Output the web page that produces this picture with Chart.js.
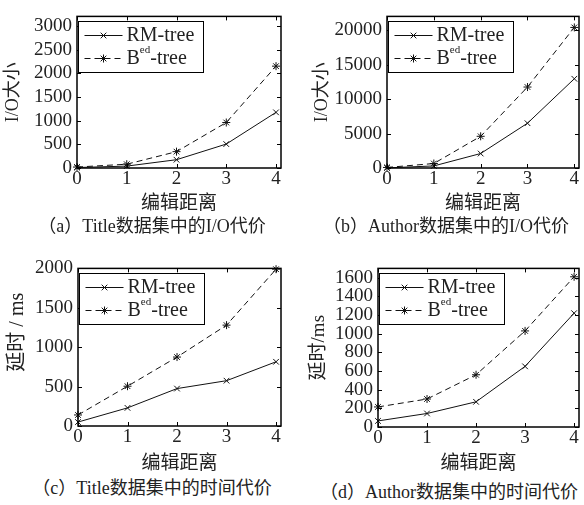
<!DOCTYPE html>
<html>
<head>
<meta charset="utf-8">
<script src="https://cdn.jsdelivr.net/npm/chart.js@4.4.1/dist/chart.umd.min.js"></script>
<style>
body { margin: 0; background: #fff; width: 584px; height: 505px; position: relative; overflow: hidden; }
canvas { position: absolute; }
.chuthich { position: absolute; width: 292px; text-align: center; font: 18px "Liberation Serif", "Noto Sans CJK SC"; color: #222; line-height: 24px; white-space: nowrap; }
</style>
</head>
<body>
<canvas id="bdA" width="292" height="215" style="left:0;top:0"></canvas>
<canvas id="bdB" width="292" height="215" style="left:292px;top:0"></canvas>
<canvas id="bdC" width="292" height="223" style="left:0;top:252px"></canvas>
<canvas id="bdD" width="292" height="223" style="left:292px;top:252px"></canvas>
<div class="chuthich" style="left:6px;top:214px">（a）Title数据集中的I/O代价</div>
<div class="chuthich" style="left:300px;top:214px">（b）Author数据集中的I/O代价</div>
<div class="chuthich" style="left:6px;top:476px">（c）Title数据集中的时间代价</div>
<div class="chuthich" style="left:303px;top:480px">（d）Author数据集中的时间代价</div>
<script>
// du lieu doc tu hinh
const bienTapKC = [0, 1, 2, 3, 4];

const ioTitleRM = [10, 40, 175, 505, 1175];
const ioTitleBed = [20, 80, 345, 960, 2150];
const ioAuthorRM = [20, 300, 2100, 6500, 12950];
const ioAuthorBed = [80, 650, 4600, 11750, 20400];
const tgTitleRM = [50, 230, 475, 575, 815];
const tgTitleBed = [140, 505, 875, 1280, 1990];
const tgAuthorRM = [65, 145, 270, 650, 1220];
const tgAuthorBed = [215, 300, 560, 1030, 1610];

const tickA = [0, 500, 1000, 1500, 2000, 2500, 3000];
const tickB = [0, 5000, 10000, 15000, 20000];
const tickC = [0, 500, 1000, 1500, 2000];
const tickD = [0, 200, 400, 600, 800, 1000, 1200, 1400, 1600];

const tenRM = "RM-tree";
const tenBed = "B^{ed}-tree";

const FONT = '"Liberation Serif", "Noto Sans CJK SC"';
const MAU = "#111";

// ve khung, vach chia huong vao trong va chu giai
const khungPlugin = {
    id: "khung",
    afterDraw(chart) {
        const ctx = chart.ctx;
        const a = chart.chartArea;
        const sx = chart.scales.x, sy = chart.scales.y;
        ctx.save();
        ctx.strokeStyle = "#000";
        ctx.lineWidth = 1;
        ctx.setLineDash([]);
        ctx.beginPath();
        sx.ticks.forEach((t) => {
            const x = Math.round(sx.getPixelForValue(t.value)) + 0.5;
            ctx.moveTo(x, a.bottom); ctx.lineTo(x, a.bottom - 4);
            ctx.moveTo(x, a.top); ctx.lineTo(x, a.top + 4);
        });
        sy.ticks.forEach((t) => {
            const y = Math.round(sy.getPixelForValue(t.value)) + 0.5;
            ctx.moveTo(a.left, y); ctx.lineTo(a.left + 4, y);
            ctx.moveTo(a.right, y); ctx.lineTo(a.right - 4, y);
        });
        ctx.stroke();
        ctx.lineWidth = 1.5;
        ctx.strokeRect(a.left, a.top, a.right - a.left, a.bottom - a.top);

        // chu giai
        const x0 = Math.round(a.left) + 1.5, y0 = Math.round(a.top) + 5.5;
        const w = 125, h = 51;
        ctx.fillStyle = "#fff";
        ctx.fillRect(x0, y0, w, h);
        ctx.lineWidth = 1;
        ctx.strokeRect(x0, y0, w, h);
        chart.data.datasets.forEach((ds, i) => {
            const cy = y0 + 14 + i * 23;
            ctx.strokeStyle = MAU;
            ctx.setLineDash(ds.borderDash || []);
            ctx.beginPath();
            ctx.moveTo(x0 + 6, cy); ctx.lineTo(x0 + 44, cy);
            ctx.stroke();
            ctx.setLineDash([]);
            Chart.helpers.drawPoint(ctx, { pointStyle: ds.pointStyle, radius: ds.pointRadius, rotation: 0, borderWidth: 1 }, x0 + 25, cy);
            ctx.fillStyle = "#222";
            ctx.textBaseline = "middle";
            ctx.textAlign = "left";
            let tx = x0 + 48;
            const m = ds.label.match(/^(.*)\^\{(.*)\}(.*)$/);
            const phan = m ? [[m[1], 0], [m[2], 1], [m[3], 0]] : [[ds.label, 0]];
            phan.forEach(([s, sup]) => {
                ctx.font = (sup ? "11px " : "20px ") + FONT;
                ctx.fillText(s, tx, sup ? cy - 8 : cy);
                tx += ctx.measureText(s).width;
            });
        });
        ctx.restore();
    },
};

function taoBieuDo(id, duLieuRM, duLieuBed, yTicks, c) {
    const diem = (arr) => bienTapKC.map((x, i) => ({ x: x, y: arr[i] }));
    new Chart(document.getElementById(id), {
        type: "line",
        data: {
            datasets: [
                {
                    label: tenRM, data: diem(duLieuRM),
                    borderColor: MAU, borderWidth: 1, tension: 0, fill: false,
                    pointStyle: "crossRot", pointRadius: 4, pointBorderColor: MAU, pointBorderWidth: 1,
                },
                {
                    label: tenBed, data: diem(duLieuBed),
                    borderColor: MAU, borderWidth: 1, borderDash: [6, 4], tension: 0, fill: false,
                    pointStyle: "star", pointRadius: 4, pointBorderColor: MAU, pointBorderWidth: 1,
                },
            ],
        },
        options: {
            responsive: false,
            animation: false,
            clip: false,
            layout: { padding: { top: c.top, right: c.right, left: 0, bottom: 0 } },
            plugins: { legend: { display: false }, tooltip: { enabled: false } },
            scales: {
                x: {
                    type: "linear", min: 0, max: 4.1,
                    afterBuildTicks: (s) => { s.ticks = bienTapKC.map((v) => ({ value: v })); },
                    afterFit: (s) => { s.height = c.xh; },
                    grid: { display: false, drawTicks: false },
                    border: { display: false },
                    ticks: { padding: 0, maxRotation: 0, autoSkip: false, color: "#222", font: { family: FONT, size: 19 }, callback: (v) => String(v) },
                    title: { display: true, text: "编辑距离", color: "#222", font: { family: FONT, size: 19 }, padding: { top: 0, bottom: 0 } },
                },
                y: {
                    min: 0, max: c.ymax,
                    afterBuildTicks: (s) => { s.ticks = yTicks.map((v) => ({ value: v })); },
                    afterFit: (s) => { s.width = c.left; },
                    grid: { display: false, drawTicks: false },
                    border: { display: false },
                    ticks: { padding: 5, autoSkip: false, color: "#222", font: { family: FONT, size: 19 }, callback: (v) => String(v) },
                    title: { display: true, text: c.yTen, color: "#222", font: { family: FONT, size: c.tSize }, padding: { top: c.tPad, bottom: 0 } },
                },
            },
        },
        plugins: [khungPlugin],
    });
}

taoBieuDo("bdA", ioTitleRM, ioTitleBed, tickA, { top: 8, right: 11, left: 77, xh: 47, ymax: 3200, yTen: "I/O大小", tPad: 2, tSize: 18 });
taoBieuDo("bdB", ioAuthorRM, ioAuthorBed, tickB, { top: 9, right: 1, left: 95, xh: 47, ymax: 22000, yTen: "I/O大小", tPad: 19, tSize: 18 });
taoBieuDo("bdC", tgTitleRM, tgTitleBed, tickC, { top: 15, right: 11, left: 78, xh: 49, ymax: 2000, yTen: "      延时 / ms", tPad: 6, tSize: 20 });
taoBieuDo("bdD", tgAuthorRM, tgAuthorBed, tickD, { top: 15, right: 1, left: 86, xh: 48, ymax: 1700, yTen: "延时/ms", tPad: 16, tSize: 19 });
</script>
</body>
</html>
